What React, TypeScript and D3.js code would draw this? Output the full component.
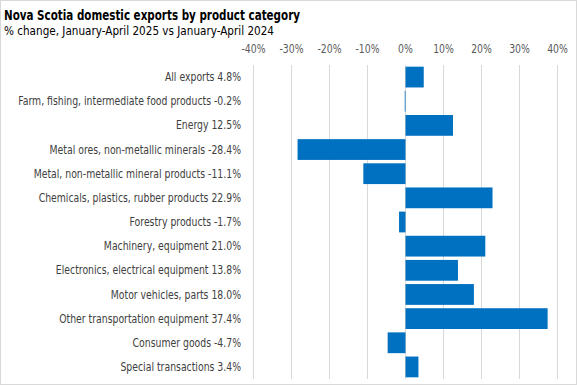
import React from 'react';
import * as d3 from 'd3';

const CATEGORIES = [
  'All exports 4.8%',
  'Farm, fishing, intermediate food products -0.2%',
  'Energy 12.5%',
  'Metal ores, non-metallic minerals -28.4%',
  'Metal, non-metallic mineral products -11.1%',
  'Chemicals, plastics, rubber products 22.9%',
  'Forestry products -1.7%',
  'Machinery, equipment 21.0%',
  'Electronics, electrical equipment 13.8%',
  'Motor vehicles, parts 18.0%',
  'Other transportation equipment 37.4%',
  'Consumer goods -4.7%',
  'Special transactions 3.4%',
];
const VALUES = [4.8, -0.2, 12.5, -28.4, -11.1, 22.9, -1.7, 21.0, 13.8, 18.0, 37.4, -4.7, 3.4];
const TICKS = [-40, -30, -20, -10, 0, 10, 20, 30, 40];

const WIDTH = 577;
const HEIGHT = 385;
const FONT = "'DejaVu Sans Condensed', 'DejaVu Sans', sans-serif";
// the original uses a narrow font, so squeeze text a bit horizontally
const SQUEEZE = 0.9;

export default function App() {
  const x = d3.scaleLinear().domain([-40, 40]).range([253.5, 557.5]);
  const y = d3.scaleBand<string>().domain(CATEGORIES).range([65, 379]).paddingInner(0.14).paddingOuter(0.07);

  return (
    <svg width={WIDTH} height={HEIGHT} style={{ position: 'absolute', left: 0, top: 0, background: '#fff' }}
      fontFamily={FONT}>
      <rect x={0.5} y={0.5} width={WIDTH - 1} height={HEIGHT - 1} fill="#fff" stroke="#d9d9d9" />
      <text x={4} y={20} fontSize={14.5} fontWeight="bold" fill="#000" textLength={296} lengthAdjust="spacingAndGlyphs">
        Nova Scotia domestic exports by product category
      </text>
      <text x={4} y={35} fontSize={12.5} fill="#000" textLength={270} lengthAdjust="spacingAndGlyphs">
        % change, January-April 2025 vs January-April 2024
      </text>

      {TICKS.map((t) => (
        <g key={t}>
          <line x1={x(t)} x2={x(t)} y1={65} y2={379} stroke="#d9d9d9" strokeWidth={1} />
          <g transform={`translate(${x(t)},53) scale(${SQUEEZE},1)`}>
            <text textAnchor="middle" fontSize={11.5} fill="#595959">{`${t}%`}</text>
          </g>
        </g>
      ))}

      {CATEGORIES.map((c, i) => {
        const v = VALUES[i];
        const y0 = y(c)!;
        return (
          <g key={c}>
            <rect x={Math.min(x(0), x(v))} y={y0} width={Math.abs(x(v) - x(0))} height={y.bandwidth()} fill="#0070C0" />
            <g transform={`translate(241,${y0 + y.bandwidth() / 2}) scale(${SQUEEZE},1)`}>
              <text dy="0.35em" textAnchor="end" fontSize={11.5} fill="#404040">{c}</text>
            </g>
          </g>
        );
      })}
    </svg>
  );
}
